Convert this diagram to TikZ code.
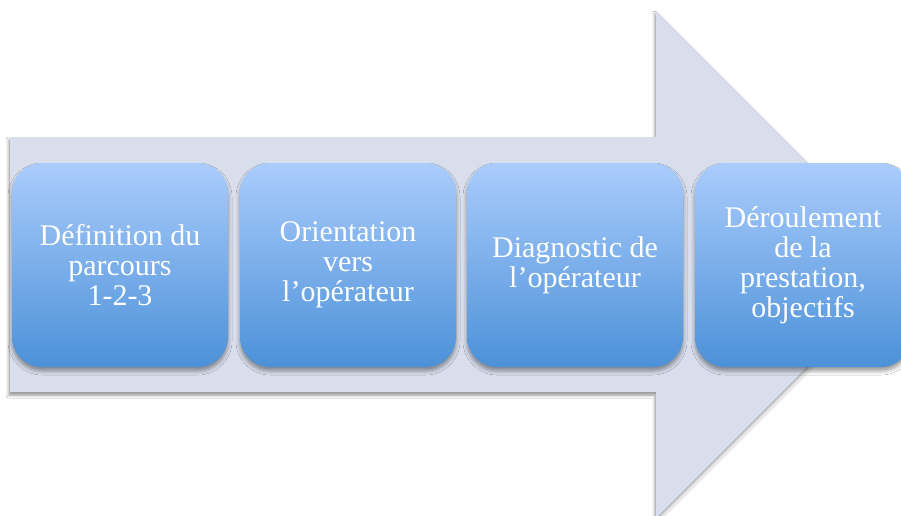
\documentclass[tikz,border=0pt]{standalone}
\usepackage{fontspec}
\setmainfont{Liberation Serif}
\usetikzlibrary{shadows.blur}
\definecolor{arrowfill}{RGB}{216,222,236}
\definecolor{boxtop}{RGB}{170,204,252}
\definecolor{boxbot}{RGB}{76,145,216}
\tikzset{
  bigarrow/.style={fill=arrowfill, draw=none,
    blur shadow={shadow xshift=-1pt, shadow yshift=-3pt, shadow blur radius=3pt, shadow opacity=45}},
  stepbox/.style={draw=none, rounded corners=30pt, top color=boxtop, bottom color=boxbot,
    minimum width=216pt, minimum height=204pt, inner sep=0pt,
    text=white, align=center, font=\fontsize{30}{30}\selectfont,
    blur shadow={shadow xshift=0pt, shadow yshift=-4pt, shadow blur radius=4pt, shadow opacity=40}}
}
\begin{document}
\begin{tikzpicture}[x=1pt, y=-1pt]
\useasboundingbox (0,0) rectangle (901,516);
\fill[white] (0,0) rectangle (901,516);
\path[bigarrow] (10,137) -- (656,137) -- (656,11) -- (909.5,264.5) -- (656,518) -- (656,392) -- (10,392) -- cycle;
\node[stepbox] (b1) at (120,265) {Définition du\\parcours\\1-2-3};
\node[stepbox] (b2) at (348,265) {Orientation\\vers\\l’opérateur};
\node[stepbox] (b3) at (575,265) {Diagnostic de\\l’opérateur};
\node[stepbox] (b4) at (803,265) {Déroulement\\de la\\prestation,\\objectifs};
\end{tikzpicture}
\end{document}
